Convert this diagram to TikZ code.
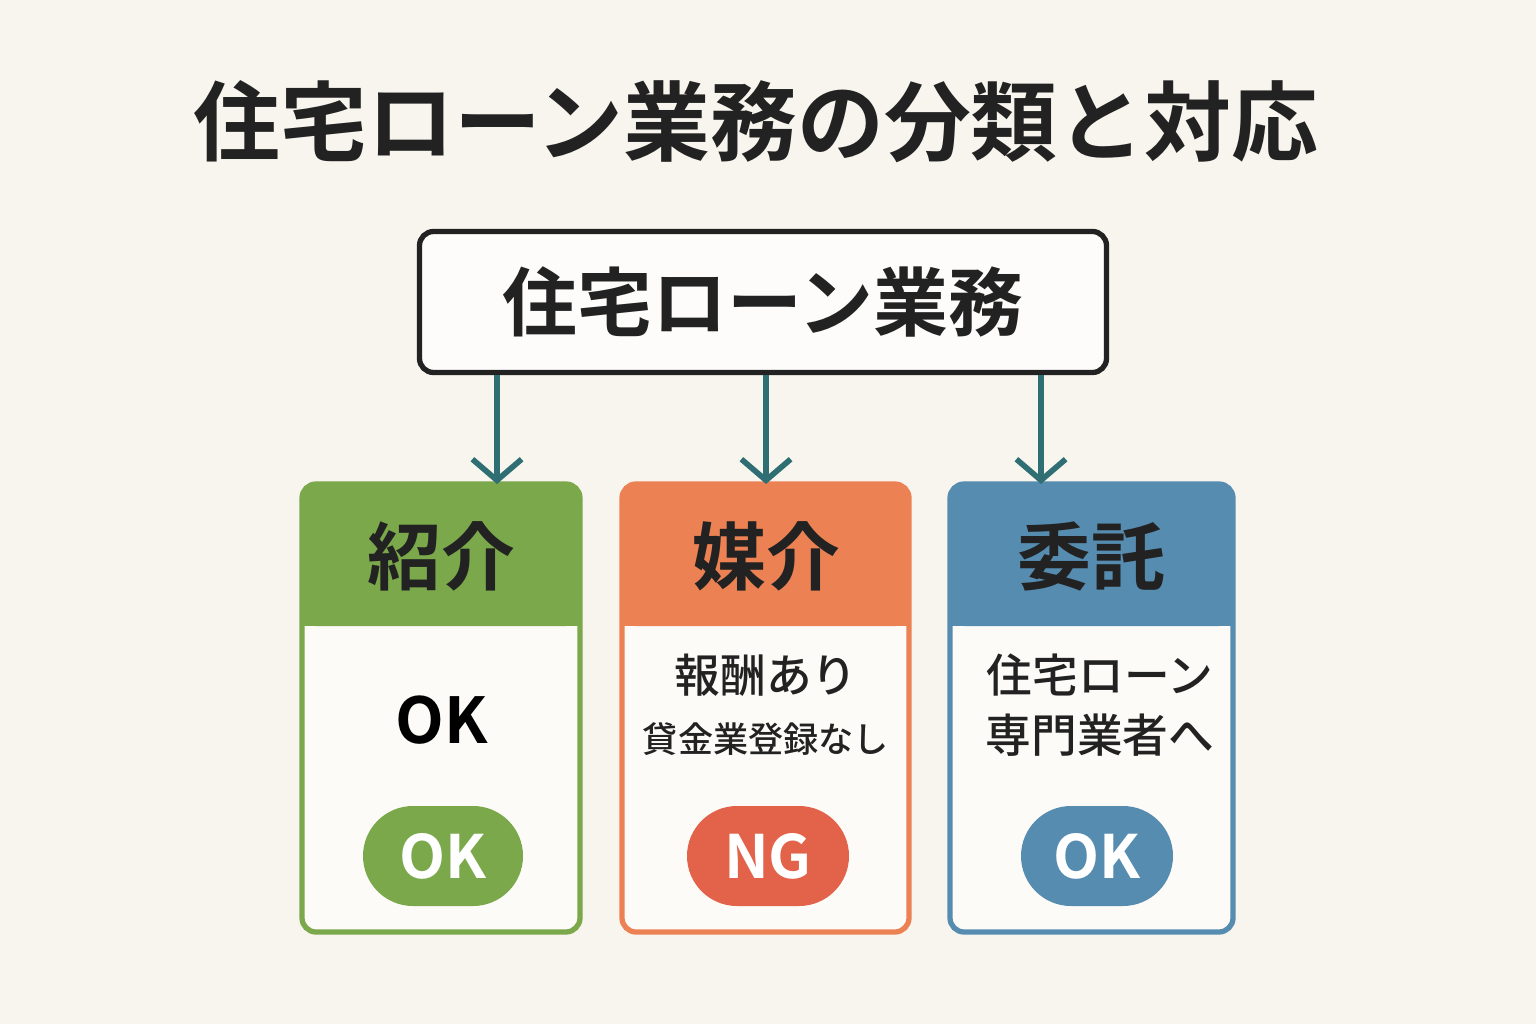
\documentclass[tikz,border=0pt]{standalone}
\usepackage{fontspec}
\setmainfont{Noto Sans CJK JP Medium}
\newfontfamily\jpb{Noto Sans CJK JP Bold}
\usetikzlibrary{positioning}
\usetikzlibrary{arrows.meta}
\definecolor{bgc}{RGB}{248,245,238}
\definecolor{teal}{RGB}{47,110,115}
\definecolor{greenc}{RGB}{122,168,74}
\definecolor{orangec}{RGB}{236,130,84}
\definecolor{bluec}{RGB}{86,140,176}
\definecolor{redc}{RGB}{226,98,74}
\definecolor{inkc}{RGB}{34,34,34}
\tikzset{card/.style={line width=1.5pt,rounded corners=4pt}}
\tikzset{head/.style={font=\jpb\fontsize{21}{24}\selectfont,text=inkc}}
\tikzset{pill/.style={rounded corners=50*0.01cm,minimum height=100*0.01cm,text=white,
                      font=\jpb\fontsize{17}{20}\selectfont}}
\tikzset{arrowc/.style={draw=teal,line width=1.6pt,-{Straight Barb[length=6pt,width=14pt]}}}
\begin{document}
\begin{tikzpicture}[x=0.01cm,y=-0.01cm]
  \fill[bgc] (0,0) rectangle (1536,1024);
  \useasboundingbox (0,0) rectangle (1536,1024);
  % Title
  \node[font=\jpb\fontsize{24.7}{28}\selectfont,text=inkc] (title) at (756,122) {住宅ローン業務の分類と対応};
  \node[draw=inkc,line width=1.5pt,rounded corners=4pt,fill=white!70!bgc,minimum width=687*0.01cm,
        minimum height=141*0.01cm,font=\jpb\fontsize{21.3}{24}\selectfont,text=inkc] (root) at (763,302) {住宅ローン業務};
  % Cards
  \foreach \name/\col/\xa/\xb in {c1/greenc/302/580,c2/orangec/622/909,c3/bluec/950/1233}{
    \fill[card,white!60!bgc] (\xa,484) rectangle (\xb,932);
    \fill[card,\col] (\xa,484) rectangle (\xb,626);
    \fill[\col] (\xa,560) rectangle (\xb,626);
    \draw[card,draw=\col] (\xa,484) rectangle (\xb,932);
    \coordinate (\name) at ({(\xa+\xb)/2},484);
  }
  \node[head] (h1) at (441,556) {紹介};
  \node[head] (h2) at (766,556) {媒介};
  \node[head] (h3) at (1091,556) {委託};
  % Body texts
  \node[font=\fontsize{18}{20}\selectfont\jpb,text=black] (t1) at (442,720) {OK};
  \node[font=\fontsize{13}{15}\selectfont,text=inkc,align=center] (t2) at (766,705)
       {報酬あり\\[2pt]{\fontsize{10}{12}\selectfont 貸金業登録なし}};
  \node[font=\fontsize{13}{17}\selectfont,text=inkc,align=center] (t3) at (1100,705) {住宅ローン\\専門業者へ};
  % Pills
  \node[pill,fill=greenc,minimum width=160*0.01cm] (p1) at (443,856) {OK};
  \node[pill,fill=redc,minimum width=162*0.01cm] (p2) at (768,856) {NG};
  \node[pill,fill=bluec,minimum width=152*0.01cm] (p3) at (1097,856) {OK};
  % Arrows
  \draw[arrowc] (root.south -| 497,0) -- (c1 -| 497,0);
  \draw[arrowc] (root.south -| 766,0) -- (c2 -| 766,0);
  \draw[arrowc] (root.south -| 1041,0) -- (c3 -| 1041,0);
\end{tikzpicture}
\end{document}
